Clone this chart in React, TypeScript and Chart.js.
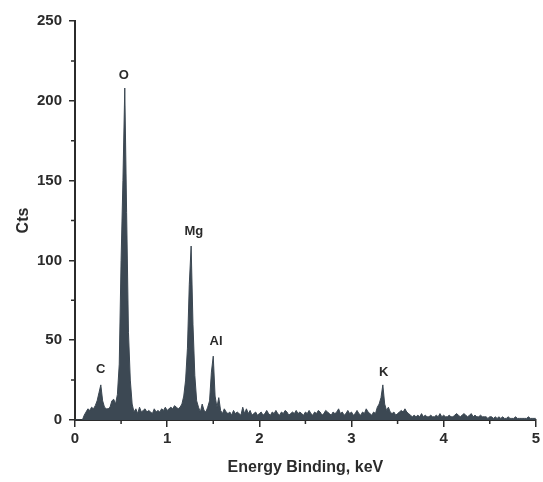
import React, { useEffect, useRef } from "react";
import { Chart, registerables } from "chart.js";

Chart.register(...registerables);

// Channel calibration (keV)
const START_KEV = 0;
const STEP_KEV = 0.02;

// Counts per channel, split by energy range
const counts0to1 = [
  0, 0, 0, 0, 0, 3, 5, 7, 6, 8, 7, 9, 12, 17, 22, 12, 8, 7, 7, 8,
  12, 13, 10, 16, 35, 100, 150, 208, 130, 55, 25, 10, 5, 7, 4, 8, 5, 6, 7, 5,
  6, 5, 4, 7, 5, 6, 5, 7, 6, 8,
];
const counts1to2 = [
  6, 7, 8, 7, 9, 8, 7, 8, 10, 15, 25, 45, 85, 109, 60, 28, 12, 8, 5, 10,
  6, 5, 8, 12, 30, 40, 15, 8, 14, 6, 4, 7, 5, 4, 5, 3, 6, 4, 5, 4,
  3, 8, 4, 7, 4, 6, 3, 4, 5, 3,
];
const counts2to3 = [
  4, 5, 3, 4, 6, 4, 3, 5, 4, 6, 4, 3, 5, 4, 6, 5, 3, 4, 5, 4,
  6, 4, 5, 4, 3, 5, 4, 6, 4, 3, 5, 4, 6, 5, 3, 4, 6, 5, 4, 3,
  5, 4, 5, 7, 4, 5, 3, 4, 6, 4,
];
const counts3to4 = [
  5, 3, 4, 6, 4, 3, 5, 4, 7, 5, 4, 3, 5, 4, 8, 10, 14, 22, 10, 6,
  8, 5, 4, 5, 3, 4, 5, 6, 5, 7, 5, 4, 3, 2, 3, 2, 3, 2, 4, 2,
  3, 2, 2, 3, 2, 2, 3, 2, 4, 2,
];
const counts4to5 = [
  3, 2, 2, 3, 2, 2, 3, 4, 3, 2, 3, 4, 3, 2, 3, 4, 2, 3, 2, 2,
  3, 2, 2, 2, 1, 2, 2, 1, 2, 1, 2, 1, 2, 1, 1, 2, 1, 1, 1, 2,
  1, 1, 1, 1, 1, 1, 2, 1, 1, 1, 1,
];

const xTicks = [0, 1, 2, 3, 4, 5];
const yTicks = [0, 50, 100, 150, 200, 250];
const xMinorTicks = [0.5, 1.5, 2.5, 3.5, 4.5];
const yMinorTicks = [25, 75, 125, 175, 225];

const peakLabels = ["C", "O", "Mg", "Al", "K"];
const peakLabelEnergies = [0.28, 0.53, 1.29, 1.53, 3.35];
const peakLabelCounts = [32, 216, 118, 49, 29.5];

const FILL = "#3c4853";
const INK = "#2b2b2b";
const FONT = "'Liberation Sans', Arial, sans-serif";

const overlayPlugin = {
  id: "overlay",
  afterDraw(chart: any) {
    const ctx = chart.ctx;
    const xs = chart.scales.x;
    const ys = chart.scales.y;
    const area = chart.chartArea;
    ctx.save();
    ctx.strokeStyle = INK;
    ctx.lineWidth = 1.5;
    ctx.beginPath();
    yMinorTicks.forEach((v) => {
      const py = ys.getPixelForValue(v);
      ctx.moveTo(area.left - 4, py);
      ctx.lineTo(area.left, py);
    });
    xMinorTicks.forEach((v) => {
      const px = xs.getPixelForValue(v);
      ctx.moveTo(px, area.bottom);
      ctx.lineTo(px, area.bottom + 4);
    });
    ctx.stroke();

    ctx.fillStyle = INK;
    ctx.font = `bold 13px ${FONT}`;
    ctx.textAlign = "center";
    ctx.textBaseline = "middle";
    peakLabels.forEach((t, i) => {
      ctx.fillText(
        t,
        xs.getPixelForValue(peakLabelEnergies[i]),
        ys.getPixelForValue(peakLabelCounts[i])
      );
    });
    ctx.restore();
  },
};

export default function App() {
  const ref = useRef<HTMLCanvasElement>(null);

  useEffect(() => {
    const all = [...counts0to1, ...counts1to2, ...counts2to3, ...counts3to4, ...counts4to5];
    const points = all.map((c, i) => ({ x: +(START_KEV + i * STEP_KEV).toFixed(2), y: c }));
    const chart = new Chart(ref.current as HTMLCanvasElement, {
      type: "line",
      data: {
        datasets: [
          {
            data: points,
            borderColor: FILL,
            backgroundColor: FILL,
            borderWidth: 1,
            fill: "origin",
            pointRadius: 0,
            tension: 0,
          },
        ],
      },
      options: {
        animation: false,
        responsive: false,
        maintainAspectRatio: false,
        layout: { padding: { left: 0, right: 6, top: 21, bottom: 0 } },
        plugins: { legend: { display: false }, tooltip: { enabled: false } },
        scales: {
          x: {
            type: "linear",
            min: 0,
            max: 5,
            afterFit: (s: any) => {
              s.height = 62;
            },
            afterBuildTicks: (s: any) => {
              s.ticks = xTicks.map((v) => ({ value: v }));
            },
            ticks: {
              color: INK,
              font: { family: FONT, size: 15, weight: "bold" },
              padding: 3,
              maxRotation: 0,
              autoSkip: false,
            },
            grid: { drawOnChartArea: false, tickLength: 7, color: INK, lineWidth: 1.5 },
            border: { color: INK, width: 2 },
            title: {
              display: true,
              text: "Energy Binding, keV",
              color: INK,
              font: { family: FONT, size: 16, weight: "bold" },
              padding: { top: 0, bottom: 5 },
            },
          },
          y: {
            type: "linear",
            min: 0,
            max: 250,
            afterFit: (s: any) => {
              s.width = 75;
            },
            afterBuildTicks: (s: any) => {
              s.ticks = yTicks.map((v) => ({ value: v }));
            },
            ticks: {
              color: INK,
              font: { family: FONT, size: 15, weight: "bold" },
              padding: 7,
            },
            grid: { drawOnChartArea: false, tickLength: 6, color: INK, lineWidth: 1.5 },
            border: { color: INK, width: 2 },
            title: {
              display: true,
              text: "Cts",
              color: INK,
              font: { family: FONT, size: 16, weight: "bold" },
              padding: { top: 14, bottom: 0 },
            },
          },
        },
      },
      plugins: [overlayPlugin],
    } as any);
    return () => chart.destroy();
  }, []);

  return (
    <div style={{ position: "fixed", left: 0, top: 0, width: 543, height: 482, background: "#fff" }}>
      <canvas ref={ref} width={543} height={482} style={{ width: 543, height: 482 }} />
    </div>
  );
}
